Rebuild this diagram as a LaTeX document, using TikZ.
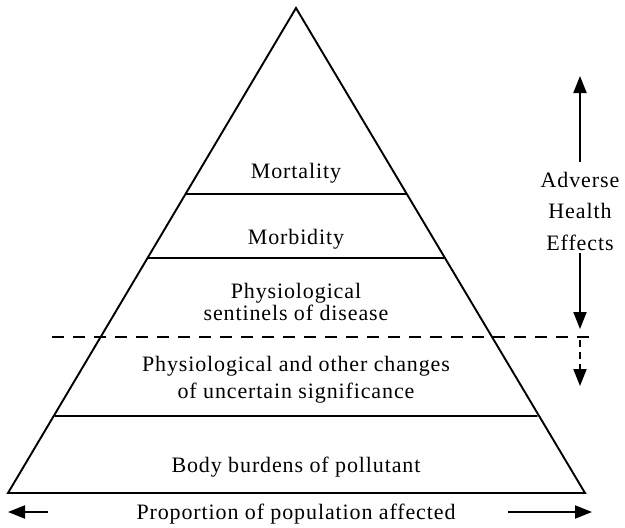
\documentclass[tikz,border=0pt]{standalone}
\usepackage{fontspec}
\setmainfont{Liberation Serif}[LetterSpace=4]
\usetikzlibrary{arrows.meta}
\begin{document}
\begin{tikzpicture}[x=1pt,y=-1pt,
  edge/.style={line width=1.9pt,line cap=round,line join=miter},
  lbl/.style={font=\fontsize{22}{26}\selectfont,inner sep=0pt,anchor=base},
  tip/.style={-{Triangle[length=17pt,width=13pt]}},
  arr/.style={line width=2pt,tip},
  dashline/.style={line width=1.9pt,dash pattern=on 12pt off 9pt}]
\useasboundingbox (0,0) rectangle (625,528);
% pyramid outline
\coordinate (apex) at (296,8);
\coordinate (bl) at (8,493);
\coordinate (br) at (585,493);
\draw[edge] (bl) -- (apex) -- (br) -- cycle;
% level lines
\coordinate (l1a) at (186,194); \coordinate (l1b) at (406,194);
\coordinate (l2a) at (148,258); \coordinate (l2b) at (444,258);
\coordinate (l4a) at (55,416);  \coordinate (l4b) at (537,416);
\draw[edge] (l1a) -- (l1b);
\draw[edge] (l2a) -- (l2b);
\draw[edge] (l4a) -- (l4b);
% dashed threshold
\coordinate (da) at (52,337); \coordinate (db) at (590,337);
\draw[dashline] (da) -- (db);
% labels
\node[lbl] (mort) at (296,178) {Mortality};
\node[lbl] (morb) at (296,244) {Morbidity};
\node[lbl] (sent1) at (296,298) {Physiological};
\node[lbl] (sent2) at (296,320) {sentinels of disease};
\node[lbl] (unc1) at (296,371) {Physiological and other changes};
\node[lbl] (unc2) at (296,398) {of uncertain significance};
\node[lbl] (body) at (296,472) {Body burdens of pollutant};
\node[lbl] (prop) at (296,519) {Proportion of population affected};
\node[lbl] (ahe1) at (580,187) {Adverse};
\node[lbl] (ahe2) at (580,218) {Health};
\node[lbl] (ahe3) at (580,250) {Effects};
% right arrows
\coordinate (upstart) at (580,162);
\coordinate (upend) at (580,76);
\coordinate (dnstart) at (580,253);
\coordinate (dnend) at (580,329);
\coordinate (dsstart) at (580,340);
\coordinate (dsmid) at (580,368);
\coordinate (dsend) at (580,386);
\draw[arr] (upstart) -- (upend);
\draw[arr] (dnstart) -- (dnend);
\draw[line width=1.9pt,dash pattern=on 7pt off 5pt] (dsstart) -- (dsmid);
\draw[arr] (dsmid) -- (dsend);
% bottom arrows
\coordinate (pls) at (48,512); \coordinate (pl) at (8,512);
\coordinate (prs) at (508,512); \coordinate (pr) at (592,512);
\draw[arr] (pls) -- (pl);
\draw[arr] (prs) -- (pr);
\end{tikzpicture}
\end{document}
